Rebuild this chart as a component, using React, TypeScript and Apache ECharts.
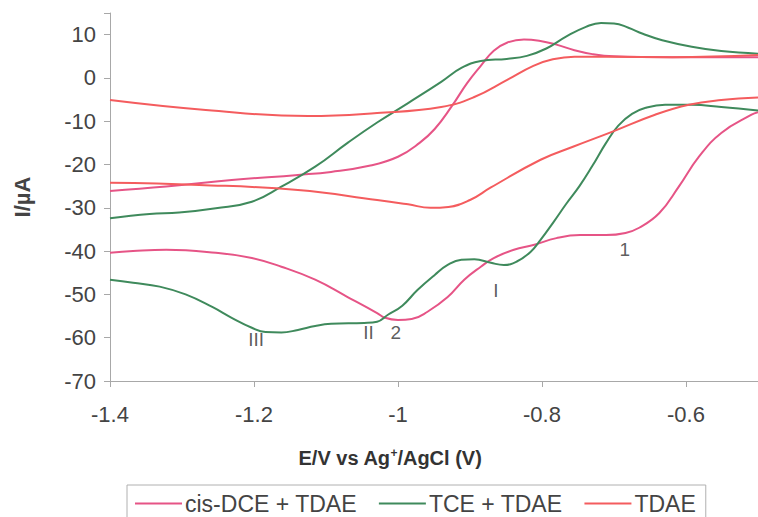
import React, { useEffect, useRef } from "react";
import * as echarts from "echarts";

// E (V) vs I (µA) — each voltammogram split into its two scan branches
const cisDceUpper: number[][] = [
  [-1.4, -26.1], [-1.322, -25.1], [-1.231, -23.6], [-1.139, -22.4], [-1.093, -21.7],
  [-1.04, -20.3], [-1.0, -18.2], [-0.97, -15], [-0.949, -11.8], [-0.926, -6.7], [-0.904, -1.2],
  [-0.885, 2.8], [-0.867, 6.3], [-0.848, 8.2], [-0.825, 8.9], [-0.804, 8.6],
  [-0.78, 7.7], [-0.755, 6.4], [-0.73, 5.5], [-0.7, 5.0], [-0.619, 4.8], [-0.5, 4.8],
];
const cisDceLower: number[][] = [
  [-1.4, -40.4], [-1.368, -40], [-1.322, -39.7], [-1.253, -40.4], [-1.203, -41.6],
  [-1.162, -43.6], [-1.115, -46.6], [-1.07, -50.6], [-1.029, -54.3], [-1.018, -55.4],
  [-1.0, -55.9], [-0.981, -55.7], [-0.959, -54], [-0.931, -50.6], [-0.908, -46.6],
  [-0.885, -43.6], [-0.867, -41.6], [-0.839, -39.7], [-0.812, -38.6], [-0.78, -37],
  [-0.747, -36.3], [-0.711, -36.3], [-0.684, -35.8], [-0.665, -34.6], [-0.637, -31.2],
  [-0.61, -25.1], [-0.582, -18.2], [-0.551, -12.7], [-0.509, -8.5], [-0.5, -7.9],
];
const tceUpper: number[][] = [
  [-1.4, -32.4], [-1.345, -31.4], [-1.304, -31.1], [-1.253, -30.1], [-1.203, -28.6],
  [-1.162, -25.1], [-1.115, -20.5], [-1.07, -15.0], [-1.029, -10.3], [-0.986, -5.8],
  [-0.94, -0.9], [-0.912, 2.3], [-0.885, 3.9], [-0.849, 4.4], [-0.821, 5.1],
  [-0.794, 6.8], [-0.766, 9.6], [-0.739, 11.8], [-0.718, 12.7], [-0.7, 12.6],
  [-0.68, 11.6], [-0.66, 10.2], [-0.633, 8.7], [-0.592, 7.2], [-0.551, 6.2], [-0.5, 5.6],
];
const tceLower: number[][] = [
  [-1.4, -46.6], [-1.368, -47.3], [-1.331, -48.2], [-1.295, -50], [-1.258, -52.9],
  [-1.231, -55.4], [-1.203, -57.7], [-1.184, -58.7], [-1.162, -58.8],
  [-1.139, -58.2], [-1.115, -57.3], [-1.093, -56.8], [-1.047, -56.6], [-1.029, -56.3],
  [-1.014, -54.7], [-0.994, -52.6], [-0.973, -49], [-0.949, -45.5], [-0.931, -43.2],
  [-0.912, -42], [-0.894, -41.9], [-0.871, -42.7], [-0.853, -43.2], [-0.835, -42.4],
  [-0.816, -40.2], [-0.802, -37.4], [-0.784, -33.3], [-0.766, -29], [-0.748, -25],
  [-0.73, -20.3], [-0.711, -15], [-0.694, -11], [-0.675, -8.3], [-0.656, -6.9],
  [-0.629, -6.2], [-0.592, -6.2], [-0.551, -6.7], [-0.5, -7.5],
];
const tdaeUpper: number[][] = [
  [-1.4, -5.1], [-1.267, -7.4], [-1.125, -8.8], [-1.029, -8.1], [-0.94, -6.7],
  [-0.894, -4.4], [-0.849, -0.5], [-0.812, 2.8], [-0.785, 4.3], [-0.755, 4.9],
  [-0.711, 4.9], [-0.619, 4.8], [-0.5, 5.3],
];
const tdaeLower: number[][] = [
  [-1.4, -24.2], [-1.276, -24.7], [-1.139, -25.9], [-1.029, -28.2], [-0.986, -29.2],
  [-0.955, -30.0], [-0.93, -29.8], [-0.9, -28.2], [-0.871, -25.3], [-0.802, -18.9],
  [-0.757, -15.9], [-0.702, -12.4], [-0.643, -8.5], [-0.596, -6.2], [-0.551, -5.1],
  [-0.5, -4.5],
];

const seriesNames = ["cis-DCE + TDAE", "TCE + TDAE", "TDAE"];
const seriesColors = ["#e65486", "#3f8a5c", "#f45c5e"];

// peak labels [E, I, text]
const peakLabels: [number, number, string][] = [
  [-0.685, -39.7, "1"],
  [-0.864, -49.0, "I"],
  [-1.003, -58.7, "2"],
  [-1.041, -58.7, "II"],
  [-1.197, -60.5, "III"],
];

const xTicksMin = -1.4;
const xTicksMax = -0.5;
const yMin = -70;
const yMax = 15;

export default function App() {
  const ref = useRef<HTMLDivElement>(null);
  useEffect(() => {
    if (!ref.current) return;
    const chart = echarts.init(ref.current, undefined, { renderer: "svg" });
    const font = "Arial, 'Liberation Sans', sans-serif";
    const branch = (name: string, color: string, data: number[][]) => ({
      name,
      type: "line",
      data,
      smooth: 0.45,
      symbol: "none",
      lineStyle: { color, width: 2 },
      itemStyle: { color },
      z: 3,
    });
    chart.setOption({
      animation: false,
      backgroundColor: "#ffffff",
      textStyle: { fontFamily: font },
      grid: { left: 110, top: 13, width: 655, height: 368, containLabel: false },
      xAxis: {
        type: "value",
        min: xTicksMin,
        max: xTicksMax,
        interval: 0.2,
        axisLine: { show: true, onZero: false, lineStyle: { color: "#a8a8a8", width: 1 } },
        axisTick: { show: true, length: 6, lineStyle: { color: "#a8a8a8" } },
        splitLine: { show: false },
        axisLabel: {
          color: "#444",
          fontSize: 22,
          margin: 22,
          fontFamily: font,
          showMaxLabel: false,
          formatter: (v: number) => (Math.abs(v - xTicksMax) < 1e-6 ? "" : String(parseFloat(v.toFixed(1)))),
        },
      },
      yAxis: {
        type: "value",
        min: yMin,
        max: yMax,
        interval: 10,
        name: "I/µA",
        nameLocation: "middle",
        nameGap: 77,
        nameTextStyle: { color: "#444", fontSize: 22, fontWeight: "bold", fontFamily: font },
        axisLine: { show: true, lineStyle: { color: "#a8a8a8", width: 1 } },
        axisTick: { show: true, length: 6, lineStyle: { color: "#a8a8a8" } },
        splitLine: { show: false },
        axisLabel: {
          color: "#444",
          fontSize: 22,
          margin: 14,
          fontFamily: font,
          formatter: (v: number) => (v > 10 ? "" : String(v)),
        },
      },
      legend: {
        left: 127,
        top: 485,
        data: seriesNames.map((n) => ({ name: n, icon: "rect" })),
        itemWidth: 47,
        itemHeight: 2,
        itemGap: 22,
        padding: [7, 10, 8, 8],
        borderColor: "#b0b0b0",
        borderWidth: 1,
        textStyle: { color: "#444", fontSize: 23, fontFamily: font, padding: [0, 0, 0, -2] },
      },
      graphic: [
        {
          type: "text",
          x: 390,
          y: 458,
          style: {
            text: "{n|E/V vs Ag}{s|+}{n|/AgCl (V)}",
            align: "center",
            verticalAlign: "middle",
            fill: "#333",
            rich: {
              n: { fontSize: 20, fontWeight: "bold", fontFamily: font, fill: "#333" },
              s: { fontSize: 12, fontWeight: "bold", fontFamily: font, fill: "#333", verticalAlign: "top", padding: [0, 0, 10, 0] },
            },
          },
        },
      ],
      series: [
        branch(seriesNames[0], seriesColors[0], cisDceUpper),
        branch(seriesNames[0], seriesColors[0], cisDceLower),
        branch(seriesNames[1], seriesColors[1], tceUpper),
        branch(seriesNames[1], seriesColors[1], tceLower),
        branch(seriesNames[2], seriesColors[2], tdaeUpper),
        branch(seriesNames[2], seriesColors[2], tdaeLower),
        {
          name: "labels",
          type: "scatter",
          symbolSize: 0,
          silent: true,
          data: peakLabels.map((p) => ({ value: [p[0], p[1]], label: { formatter: p[2] } })),
          label: {
            show: true,
            position: "inside",
            color: "#333",
            fontSize: 19,
            fontFamily: font,
          },
          z: 5,
        },
      ],
    });
    return () => chart.dispose();
  }, []);
  return (
    <div
      ref={ref}
      style={{ position: "absolute", left: 0, top: 0, width: 758, height: 517, overflow: "hidden" }}
    />
  );
}
